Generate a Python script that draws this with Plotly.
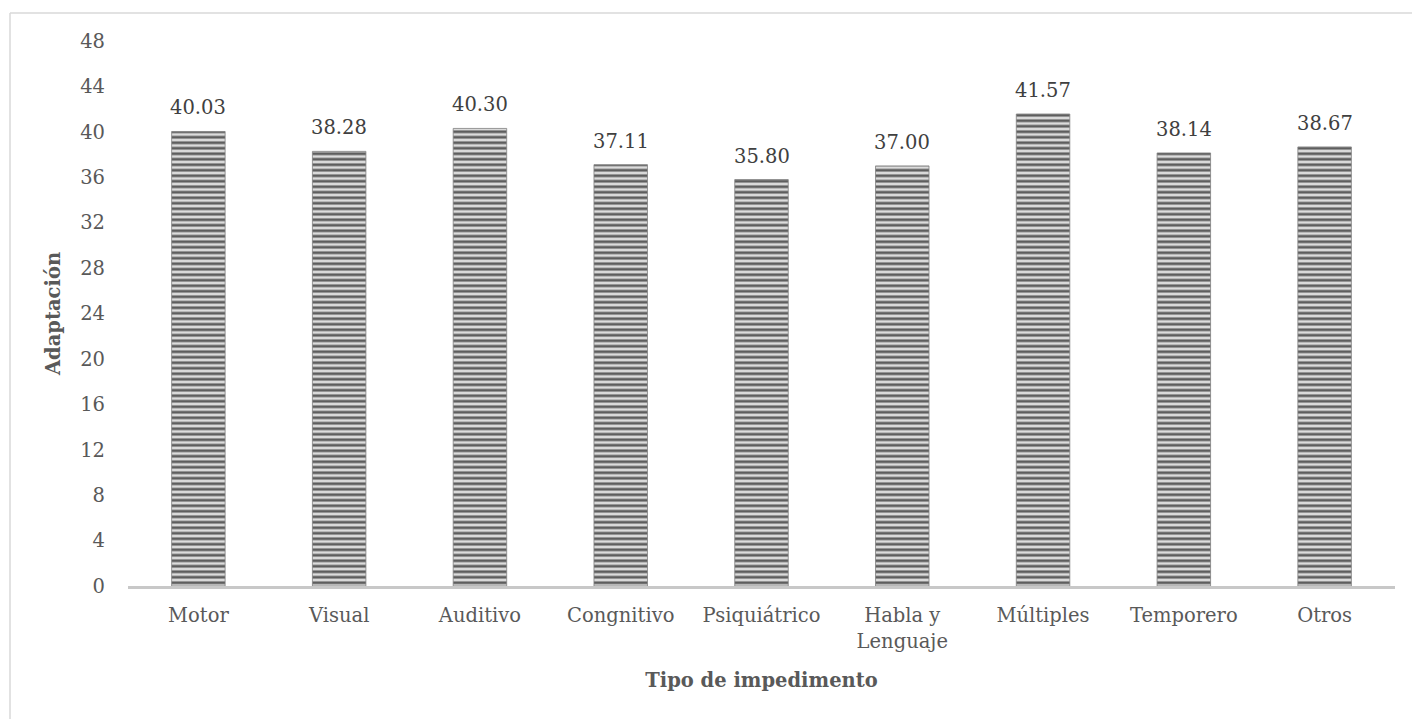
import plotly.graph_objects as go

# Mean adaptation score by type of impairment
categorias = ["Motor", "Visual", "Auditivo", "Congnitivo", "Psiquiátrico",
              "Habla y<br>Lenguaje", "Múltiples", "Temporero", "Otros"]
adaptacion = [40.03, 38.28, 40.30, 37.11, 35.80, 37.00, 41.57, 38.14, 38.67]
ticks_y = [0, 4, 8, 12, 16, 20, 24, 28, 32, 36, 40, 44, 48]

FONT = "DejaVu Serif"
SIZE = 19.5
GRIS = "#595959"

W, H = 1412, 719
L, R, T, B = 128, 17, 41, 133
pw, ph = W - L - R, H - T - B

fig = go.Figure(go.Bar(
    x=categorias,
    y=adaptacion,
    marker=dict(
        color="#d9d9d9",
        line=dict(color="#7f7f7f", width=0.8),
        pattern=dict(shape="-", fgcolor="#5e5e5e", bgcolor="#dcdcdc",
                     size=5.5, solidity=0.5, fillmode="replace"),
    ),
))

# Value labels above each bar
for cat, val in zip(categorias, adaptacion):
    fig.add_annotation(x=cat, y=val, text=f"{val:.2f}", showarrow=False,
                       yanchor="bottom", yshift=10,
                       font=dict(family=FONT, size=SIZE, color="#404040"))

# Outer chart border (top and left edges visible)
bx0 = (10 - L) / pw
by1 = (H - B - 13) / ph
fig.add_shape(type="line", xref="paper", yref="paper",
              x0=bx0, x1=(W + 5 - L) / pw, y0=by1, y1=by1,
              line=dict(color="#d9d9d9", width=1.5))
fig.add_shape(type="line", xref="paper", yref="paper",
              x0=bx0, x1=bx0, y0=by1, y1=-(B + 5) / ph,
              line=dict(color="#d9d9d9", width=1.5))

fig.update_layout(
    width=W, height=H,
    margin=dict(l=L, r=R, t=T, b=B),
    paper_bgcolor="white", plot_bgcolor="white",
    bargap=0.62,
    showlegend=False,
    font=dict(family=FONT, size=SIZE, color=GRIS),
    xaxis=dict(
        showline=True, linecolor="#c8c8c8", linewidth=2.5,
        ticks="", showgrid=False, ticklabelstandoff=10,
        tickfont=dict(family=FONT, size=SIZE, color=GRIS),
        title=dict(text="<b>Tipo de impedimento</b>",
                   font=dict(family=FONT, size=SIZE, color=GRIS), standoff=22),
    ),
    yaxis=dict(
        range=[0, 48], tickvals=ticks_y, showgrid=False, zeroline=False,
        showline=False, ticks="", ticklabelstandoff=22,
        tickfont=dict(family=FONT, size=SIZE, color=GRIS),
        title=dict(text="<b>Adaptación</b>",
                   font=dict(family=FONT, size=SIZE, color=GRIS), standoff=14),
    ),
)

fig.write_html("out.html")
